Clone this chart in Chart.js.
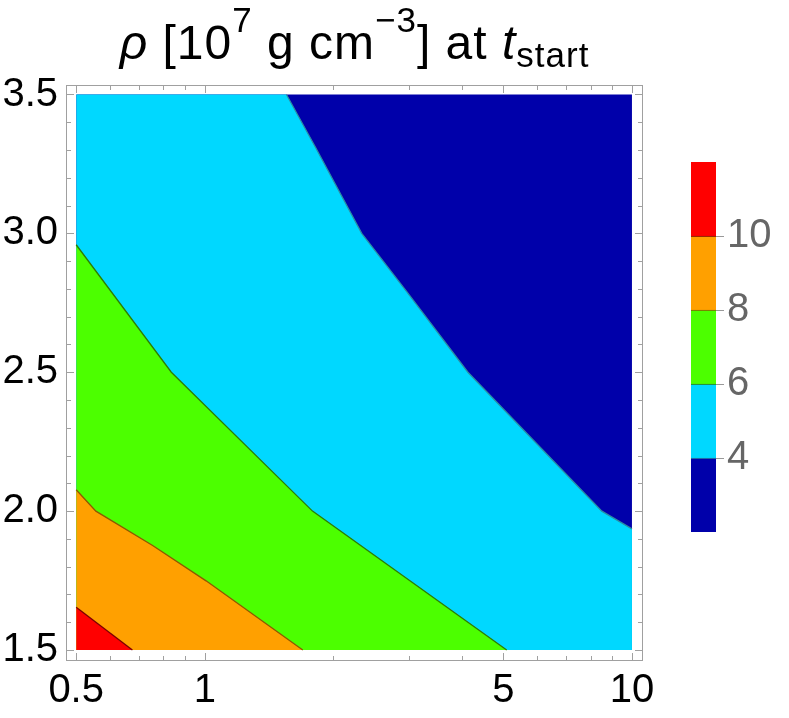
<!DOCTYPE html>
<html>
<head>
<meta charset="utf-8">
<script src="https://cdn.jsdelivr.net/npm/chart.js@4.4.1/dist/chart.umd.min.js"></script>
<style>
  html, body { margin: 0; padding: 0; background: #fff; }
  #wrap { position: relative; width: 789px; height: 718px; }
  #main { position: absolute; left: 0; top: 0; }
  #bar { position: absolute; left: 680px; top: 0; }
</style>
</head>
<body>
<div id="wrap">
  <canvas id="main" width="789" height="718"></canvas>
  <canvas id="bar" width="109" height="718"></canvas>
</div>
<script>
// contour boundaries, [x, y] pairs
const plotTop = [[0.5, 3.5], [10, 3.5]];
const level4  = [[1.553, 3.5], [1.816, 3.31], [2.33, 3.0], [2.97, 2.79], [4.13, 2.5], [8.5, 2.0], [10, 1.936]];
const level6  = [[0.5, 2.959], [0.835, 2.5], [1.787, 2.0], [5.09, 1.5]];
const level8  = [[0.5, 2.077], [0.556, 2.0], [0.755, 1.876], [1.007, 1.749], [1.696, 1.5]];
const level10 = [[0.5, 1.654], [0.677, 1.5]];

// colour bands (low, high) for the legend bar
const bandLow  = [2, 4, 6, 8, 10];
const bandHigh = [4, 6, 8, 10, 12];
const bandColors = ['#0000aa', '#00d8ff', '#4cff00', '#ffa000', '#ff0000'];
const lineColors = [null, '#2a8ea3', '#2f7d00', '#8b5a00', '#7a0000'];

// ticks
const xLabels = [0.5, 1, 5, 10];
const xMarks = [0.5, 0.6, 0.7, 0.8, 0.9, 1, 2, 3, 4, 5, 6, 7, 8, 9, 10];
const yLabels = [1.5, 2.0, 2.5, 3.0, 3.5];
const yMarks = [1.5, 1.6, 1.7, 1.8, 1.9, 2.0, 2.1, 2.2, 2.3, 2.4, 2.5, 2.6, 2.7, 2.8, 2.9,
                3.0, 3.1, 3.2, 3.3, 3.4, 3.5];
const barLabels = [4, 6, 8, 10];

const FONT = "'Liberation Sans', Arial, sans-serif";

function pts(arr) { return arr.map(p => ({ x: p[0], y: p[1] })); }

// filled band: everything below the boundary down to y = 1.5
function band(arr, i, order) {
  return {
    data: pts(arr),
    showLine: true,
    pointRadius: 0,
    tension: 0,
    backgroundColor: bandColors[i],
    borderColor: bandColors[i],
    borderWidth: 0,
    fill: { value: 1.5 },
    order: order
  };
}

// contour line on top of the fills
function edge(arr, i) {
  return {
    data: pts(arr),
    showLine: true,
    pointRadius: 0,
    tension: 0,
    borderColor: lineColors[i],
    borderWidth: 1.3,
    fill: false,
    order: 0
  };
}

// frame with inward tick marks on all four sides
const frameTicks = {
  id: 'frameTicks',
  afterDatasetsDraw(chart) {
    const { ctx, chartArea: a, scales: { x, y } } = chart;
    ctx.save();
    ctx.strokeStyle = '#a0a0a0';
    ctx.lineWidth = 1;
    ctx.strokeRect(a.left + 0.5, a.top + 0.5, a.right - a.left - 1, a.bottom - a.top - 1);
    ctx.beginPath();
    xMarks.forEach(v => {
      const px = Math.round(x.getPixelForValue(v)) + 0.5;
      const len = xLabels.includes(v) ? 8 : 5;
      ctx.moveTo(px, a.bottom); ctx.lineTo(px, a.bottom - len);
      ctx.moveTo(px, a.top); ctx.lineTo(px, a.top + len);
    });
    yMarks.forEach(v => {
      const py = Math.round(y.getPixelForValue(v)) + 0.5;
      const len = yLabels.includes(v) ? 8 : 5;
      ctx.moveTo(a.left, py); ctx.lineTo(a.left + len, py);
      ctx.moveTo(a.right, py); ctx.lineTo(a.right - len, py);
    });
    ctx.stroke();
    ctx.restore();
  }
};

// title with superscripts and subscript
const titlePlugin = {
  id: 'richTitle',
  afterDraw(chart) {
    const { ctx, chartArea: a } = chart;
    const F = 48, S = 35;
    const parts = [
      { t: 'ρ ', size: F, it: true, dy: 0 },
      { t: '[10', size: F, dy: 0 },
      { t: '7', size: S, dy: -27 },
      { t: ' g cm', size: F, dy: 0 },
      { t: '−3', size: S, dy: -27 },
      { t: '] at ', size: F, dy: 0 },
      { t: 't', size: F, it: true, dy: 0 },
      { t: 'start', size: S, dy: 8 }
    ];
    ctx.save();
    ctx.letterSpacing = '1px';
    let total = 0;
    parts.forEach(p => {
      ctx.font = (p.it ? 'italic ' : '') + p.size + 'px ' + FONT;
      p.w = ctx.measureText(p.t).width;
      total += p.w;
    });
    let cx = (a.left + a.right) / 2 - total / 2;
    const base = 59;
    ctx.fillStyle = '#000';
    ctx.textBaseline = 'alphabetic';
    ctx.textAlign = 'left';
    parts.forEach(p => {
      ctx.font = (p.it ? 'italic ' : '') + p.size + 'px ' + FONT;
      ctx.fillText(p.t, cx, base + p.dy);
      cx += p.w;
    });
    ctx.letterSpacing = '0px';
    ctx.restore();
  }
};

new Chart(document.getElementById('main'), {
  type: 'scatter',
  data: {
    datasets: [
      edge(level10, 4),
      edge(level8, 3),
      edge(level6, 2),
      edge(level4, 1),
      band(level10, 4, 1),
      band(level8, 3, 2),
      band(level6, 2, 3),
      band([[0.5, 3.5]].concat(level4), 1, 4),
      band(plotTop, 0, 5)
    ]
  },
  options: {
    responsive: false,
    animation: false,
    layout: { padding: { left: 0, top: 85, right: 146, bottom: 0 } },
    plugins: { legend: { display: false }, tooltip: { enabled: false }, title: { display: false } },
    scales: {
      x: {
        type: 'logarithmic',
        position: 'bottom',
        min: 0.4733,
        max: 10.612,
        grid: { display: false, drawTicks: false },
        border: { display: false },
        afterBuildTicks: s => { s.ticks = xLabels.map(v => ({ value: v })); },
        afterFit: s => { s.height = 57; },
        ticks: {
          autoSkip: false, maxRotation: 0, padding: 6,
          color: '#000', font: { family: FONT, size: 40 },
          callback: v => String(v)
        }
      },
      y: {
        type: 'linear',
        min: 1.4604,
        max: 3.5342,
        grid: { display: false, drawTicks: false },
        border: { display: false },
        afterBuildTicks: s => { s.ticks = yLabels.map(v => ({ value: v })); },
        afterFit: s => { s.width = 66; },
        ticks: {
          padding: 8,
          color: '#000', font: { family: FONT, size: 40 },
          callback: v => v.toFixed(1)
        }
      }
    }
  },
  plugins: [frameTicks, titlePlugin]
});

// colour legend bar
new Chart(document.getElementById('bar'), {
  type: 'bar',
  data: {
    labels: ['ρ'],
    datasets: bandLow.map((lo, i) => ({
      data: [[lo, bandHigh[i]]],
      backgroundColor: bandColors[i],
      borderColor: lineColors[i + 1] || bandColors[i],
      borderWidth: { top: i < 4 ? 1 : 0, bottom: 0, left: 0, right: 0 },
      borderSkipped: false,
      grouped: false,
      categoryPercentage: 1,
      barPercentage: 1
    }))
  },
  options: {
    responsive: false,
    animation: false,
    layout: { padding: { left: 11, top: 162, right: 0, bottom: 186 } },
    plugins: { legend: { display: false }, tooltip: { enabled: false } },
    scales: {
      x: { display: false },
      y: {
        position: 'right',
        min: 2,
        max: 12,
        grid: { drawOnChartArea: false, tickLength: 8, color: '#999' },
        border: { display: false },
        afterBuildTicks: s => { s.ticks = barLabels.map(v => ({ value: v })); },
        afterFit: s => { s.width = 73; },
        ticks: {
          padding: 3,
          color: '#666', font: { family: FONT, size: 40 },
          callback: v => String(v)
        }
      }
    }
  }
});
</script>
</body>
</html>
